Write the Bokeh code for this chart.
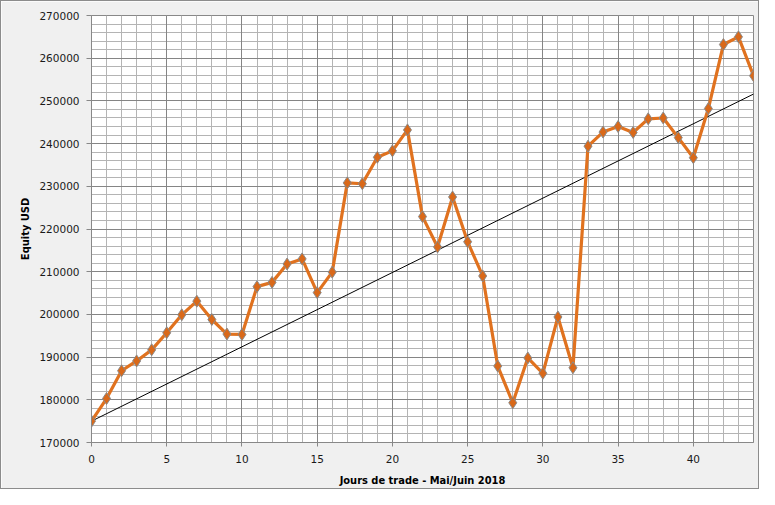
from bokeh.plotting import figure
from bokeh.models import ColumnDataSource, SingleIntervalTicker, Grid, Range1d
from bokeh.embed import file_html
from bokeh.resources import INLINE

days = list(range(45))
equity = [175000, 180300, 186800, 189100, 191700, 195700, 199900, 203100, 198800, 195400,
          195300, 206500, 207500, 211800, 213000, 205100, 209900, 230800, 230600, 236800,
          238300, 243200, 222900, 215800, 227500, 217000, 209000, 187900, 179300, 189800,
          186200, 199400, 187500, 239400, 242700, 244000, 242600, 245800, 246000, 241400,
          236700, 248200, 263200, 265000, 255900]
trend_x = [0, 44]
trend_y = [175000, 251600]

y_ticks = [170000, 180000, 190000, 200000, 210000, 220000, 230000, 240000, 250000, 260000, 270000]
x_ticks = [0, 5, 10, 15, 20, 25, 30, 35, 40]

src = ColumnDataSource(dict(x=days, y=equity))
tsrc = ColumnDataSource(dict(x=trend_x, y=trend_y))

p = figure(width=759, height=489, output_backend="svg", toolbar_location=None,
           x_range=Range1d(0, 44), y_range=Range1d(170000, 270000),
           min_border_left=90, min_border_right=7, min_border_top=14, min_border_bottom=48)
p.background_fill_color = "white"
p.border_fill_color = "#f0f0f0"
p.outline_line_color = "#888888"
p.styles = {"border": "1px solid #8c8c8c", "box-sizing": "border-box"}

# grids: minor (fine) and major
p.xgrid.grid_line_color = None
p.ygrid.grid_line_color = None
p.add_layout(Grid(dimension=0, ticker=SingleIntervalTicker(interval=1), grid_line_color="#b4b4b4", grid_line_width=1))
p.add_layout(Grid(dimension=1, ticker=SingleIntervalTicker(interval=2000), grid_line_color="#b4b4b4", grid_line_width=1))
p.add_layout(Grid(dimension=0, ticker=SingleIntervalTicker(interval=5), grid_line_color="#858585", grid_line_width=1))
p.add_layout(Grid(dimension=1, ticker=SingleIntervalTicker(interval=10000), grid_line_color="#858585", grid_line_width=1))

p.xaxis.ticker = x_ticks
p.yaxis.ticker = y_ticks
for ax in (p.xaxis, p.yaxis):
    ax.axis_line_color = "#888888"
    ax.major_tick_line_color = "#888888"
    ax.major_tick_out = 4
    ax.major_tick_in = 0
    ax.minor_tick_line_color = None
    ax.major_label_text_font = "DejaVu Sans"
    ax.major_label_text_font_size = "10.5px"
    ax.major_label_text_color = "#1a1a1a"
    ax.axis_label_text_font = "DejaVu Sans Condensed"
    ax.axis_label_text_font_size = "11px"
    ax.axis_label_text_font_style = "bold"
    ax.axis_label_text_color = "#000000"
p.yaxis.major_tick_out = 5
p.yaxis.major_label_standoff = 7
p.xaxis.major_label_standoff = 8
p.yaxis.formatter.use_scientific = False
p.xaxis.axis_label = "Jours de trade - Mai/Juin 2018"
p.yaxis.axis_label = "Equity USD"
p.xaxis.axis_label_standoff = 8
p.yaxis.axis_label_standoff = 4

p.line("x", "y", source=tsrc, line_color="#000000", line_width=1)
p.line("x", "y", source=src, line_color="#E0721F", line_width=3.2)
p.scatter("x", "y", source=src, marker="diamond", size=12, fill_color="#D9691A",
          line_color="#8a8a8a", line_width=1)

open("out.html", "w").write(file_html(p, INLINE))
